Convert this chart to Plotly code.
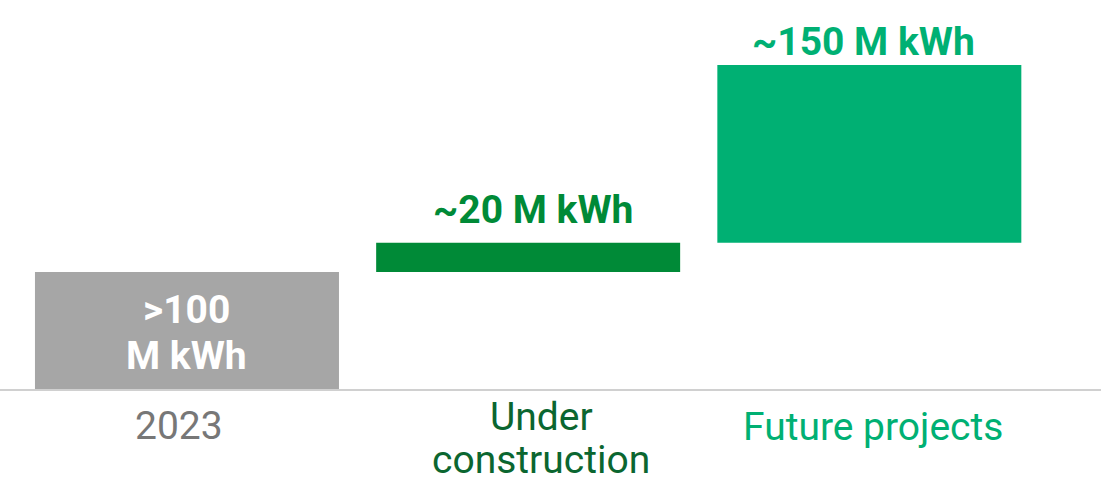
import plotly.graph_objects as go

categories = ["2023", "Under construction", "Future projects"]
tick_labels = ["2023", "Under<br>construction", "Future projects"]
values = [100, 25, 152]
bar_labels = [">100<br>M kWh", "~20 M kWh", "~150 M kWh"]

bar_colors = ["#A6A6A6", "#008A37", "#00B073"]
label_colors = ["#FFFFFF", "#008A37", "#00B073"]
tick_colors = ["#777777", "#0B6630", "#00B073"]

# waterfall bases: each bar starts where the previous ended
bases = []
running = 0
for v in values:
    bases.append(running)
    running += v

fig = go.Figure()
fig.add_trace(go.Bar(
    x=list(range(len(categories))), y=values, base=bases,
    marker=dict(color=bar_colors, line=dict(width=0)),
    width=0.891, hoverinfo="skip",
))

FONT = "Roboto"
SIZE = 39
LINE = 46
annotations = []
label_yshift = [0, 8, -2]
label_xshift = [0, 5, -6]
for i, (b, v, t) in enumerate(zip(bases, values, bar_labels)):
    lines = t.split("<br>")
    if i == 0:
        n = len(lines)
        for k, ln in enumerate(lines):
            annotations.append(dict(x=i, y=b + v / 2, xref="x", yref="y", text=ln,
                                    showarrow=False, yanchor="middle",
                                    yshift=((n - 1) / 2 - k) * LINE - 2,
                                    font=dict(family=FONT, size=SIZE, color=label_colors[i], weight="bold")))
    else:
        annotations.append(dict(x=i, y=b + v, xref="x", yref="y", text=t,
                                showarrow=False, yanchor="bottom", yshift=label_yshift[i],
                                xshift=label_xshift[i],
                                font=dict(family=FONT, size=SIZE, color=label_colors[i], weight="bold")))

# category labels under the axis
cat_xshift = [-8, 13, 4]
cat_first_center = [36.5, 27.5, 37.5]
for i, (t, col) in enumerate(zip(tick_labels, tick_colors)):
    for k, ln in enumerate(t.split("<br>")):
        annotations.append(dict(x=i, y=0, xref="x", yref="paper", text=ln, showarrow=False,
                                yanchor="middle", yshift=-(cat_first_center[i] + k * 43),
                                xshift=cat_xshift[i],
                                font=dict(family=FONT, size=SIZE, color=col)))

fig.update_layout(
    width=1101, height=482,
    margin=dict(l=0, r=0, t=0, b=93, autoexpand=False),
    paper_bgcolor="white", plot_bgcolor="white",
    showlegend=False,
    annotations=annotations,
    xaxis=dict(range=[-0.548, 2.679], tickvals=list(range(len(categories))),
               ticktext=categories, showticklabels=False,
               showgrid=False, zeroline=False, showline=True, linecolor="#D0D0D0", linewidth=2,
               ticks="", automargin=False),
    yaxis=dict(range=[0, 332.5], visible=False, showgrid=False, zeroline=False),
)

fig.write_html("out.html", config={"displayModeBar": False})
